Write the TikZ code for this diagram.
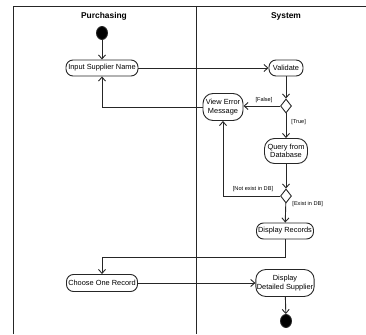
\documentclass[tikz,border=0pt]{standalone}
\usepackage{fontspec}
\setmainfont{Liberation Sans}
\usetikzlibrary{arrows.meta,shapes.geometric}
\begin{document}
\begin{tikzpicture}[x=1pt,y=-1pt,
  line width=0.9pt, draw=black!85,
  act/.style={draw, rounded corners=7pt, inner sep=1pt, align=center,
    font=\fontsize{7.4}{8.4}\selectfont, minimum height=16pt},
  act2/.style={act, rounded corners=10pt, minimum height=27pt},
  dec/.style={draw, diamond, inner sep=0pt, minimum width=11pt, minimum height=14pt, line width=0.9pt},
  dot/.style={draw, fill=black, ellipse, inner sep=0pt, minimum width=11pt, minimum height=13pt},
  guard/.style={font=\fontsize{5.6}{6.6}\selectfont, inner sep=0pt},
  lane/.style={font=\bfseries\fontsize{8.4}{9.4}\selectfont},
  flow/.style={-{Straight Barb[length=4pt,width=7pt]}}]
\useasboundingbox (0,0) rectangle (366,334);

% swimlane frame
\draw (13,334) -- (13,6) -- (366,6);
\draw (196,6) -- (196,334);
\node[lane] (hp) at (104,16) {Purchasing};
\node[lane] (hs) at (286,16) {System};

% activities
\node[dot] (start) at (102,33) {};
\node[act, minimum width=72pt] (isn) at (102,68) {Input Supplier Name};
\node[act, minimum width=34pt] (val) at (286,68) {Validate};
\node[dec] (d1) at (286,106) {};
\node[act2, minimum width=40pt] (vem) at (223,107) {View Error\\Message};
\node[act2, minimum width=43pt, minimum height=25pt] (qdb) at (286,151) {Query from\\Database};
\node[dec] (d2) at (286,196) {};
\node[act, minimum width=57pt] (dr) at (285,231) {Display Records};
\node[act, minimum width=71pt, minimum height=17pt] (cor) at (102,283) {Choose One Record};
\node[act2, minimum width=57pt] (dds) at (285,283) {Display\\Detailed Supplier};
\node[dot] (end) at (286,321) {};
\coordinate (jn) at (285,257);

% flows
\draw[flow] (start) -- (isn);
\draw[flow] (isn) -- (val);
\draw[flow] (val) -- (d1);
\draw[flow] (d1.west) -- (vem.east |- d1.west);
\draw[flow] (vem.west) -| (isn.south);
\draw[flow] (d1) -- (qdb);
\draw[flow] (qdb) -- (d2);
\draw[flow] (d2.west) -| (vem.south);
\draw[flow] (d2) -- (dr);
\draw[flow] (dr.south) -- (jn) -| (cor.north);
\draw[flow] (cor) -- (dds);
\draw[flow] (dds) -- (end);

% guards
\node[guard] (gf) at (264,100) {[False]};
\node[guard, anchor=west] (gt) at (291,122) {[True]};
\node[guard] (gn) at (253,189) {[Not exist in DB]};
\node[guard, anchor=west] (ge) at (292,204) {[Exist in DB]};
\end{tikzpicture}
\end{document}
